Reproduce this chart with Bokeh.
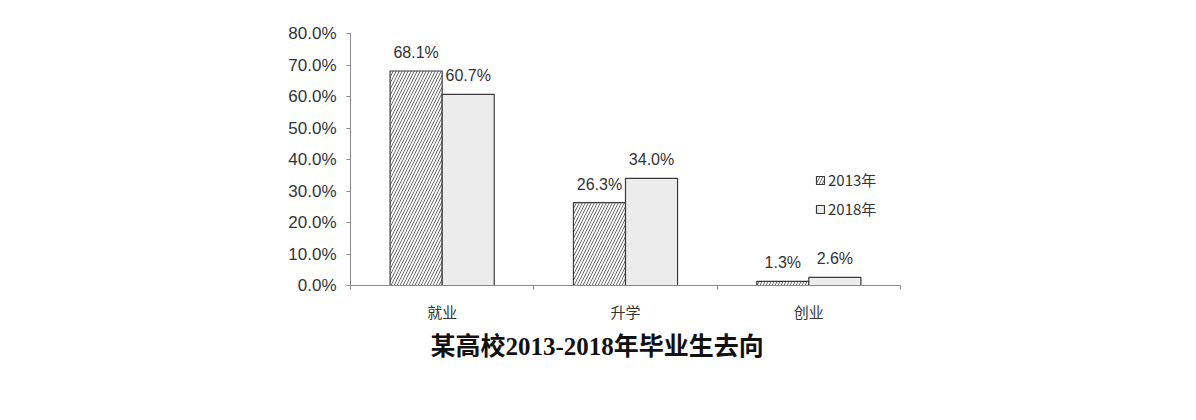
import numpy as np
from bokeh.plotting import figure
from bokeh.models import (Range1d, FixedTicker, PrintfTickFormatter, Legend, LegendItem,
                          ColumnDataSource, LabelSet, Title)
from bokeh.core.properties import value
from bokeh.embed import file_html
from bokeh.resources import INLINE

categories = ["就业", "升学", "创业"]
series_names = ["2013年", "2018年"]
v2013 = [68.1, 26.3, 1.3]
v2018 = [60.7, 34.0, 2.6]
y_ticks = [0, 10, 20, 30, 40, 50, 60, 70, 80]
title_text = "某高校2013-2018年毕业生去向"

BAR_W = 0.284
centers = np.arange(len(categories)) + 0.5

src13 = ColumnDataSource(dict(x=centers - BAR_W / 2, y=v2013,
                              lab=[f"{v:.1f}%" for v in v2013]))
src18 = ColumnDataSource(dict(x=centers + BAR_W / 2, y=v2018,
                              lab=[f"{v:.1f}%" for v in v2018]))

p = figure(width=1180, height=404, output_backend="svg", toolbar_location=None,
           x_range=Range1d(0, len(categories)), y_range=Range1d(0, 80),
           min_border_left=350, min_border_right=280, min_border_top=33,
           min_border_bottom=119)
p.outline_line_color = None
p.grid.visible = False
p.background_fill_color = "white"
p.border_fill_color = "white"

TEXT_COL = "#333333"
AX_COL = "#8a8a8a"
SANS = "Liberation Sans"

r13 = p.vbar(x="x", top="y", width=BAR_W, source=src13, fill_color="white",
             line_color="#3a3a3a", line_width=1.2,
             hatch_pattern="/", hatch_color="#5a5a5a", hatch_scale=6, hatch_weight=0.9)
r18 = p.vbar(x="x", top="y", width=BAR_W, source=src18, fill_color="#ececec",
             line_color="#3a3a3a", line_width=1.2)

for s in (src13, src18):
    p.add_layout(LabelSet(x="x", y="y", text="lab", source=s, text_align="center",
                          text_baseline="bottom", y_offset=10,
                          text_font=value(SANS), text_font_size="16px",
                          text_color=TEXT_COL))

# y axis
p.yaxis.ticker = FixedTicker(ticks=y_ticks)
p.yaxis.formatter = PrintfTickFormatter(format="%.1f%%")
p.yaxis.major_tick_out = 4
p.yaxis.major_tick_in = 0
p.yaxis.minor_tick_line_color = None
p.yaxis.axis_line_color = AX_COL
p.yaxis.major_tick_line_color = AX_COL
p.yaxis.major_label_text_font = SANS
p.yaxis.major_label_text_font_size = "17px"
p.yaxis.major_label_text_color = TEXT_COL
p.yaxis.major_label_standoff = 10

# x axis: labels at centres, small ticks at category boundaries
p.xaxis.ticker = FixedTicker(ticks=list(centers),
                             minor_ticks=list(np.arange(len(categories) + 1)))
p.xaxis.major_label_overrides = {float(c): cat for c, cat in zip(centers, categories)}
p.xaxis.major_tick_line_color = None
p.xaxis.minor_tick_out = 4
p.xaxis.minor_tick_in = 0
p.xaxis.minor_tick_line_color = AX_COL
p.xaxis.axis_line_color = AX_COL
p.xaxis.major_label_text_font = "Noto Sans CJK SC"
p.xaxis.major_label_text_font_size = "15px"
p.xaxis.major_label_text_color = TEXT_COL
p.xaxis.major_label_standoff = 9

legend = Legend(items=[LegendItem(label=series_names[0], renderers=[r13]),
                       LegendItem(label=series_names[1], renderers=[r18])],
                location=(465, 66), orientation="vertical",
                glyph_width=10, glyph_height=10, label_height=14, spacing=8,
                label_standoff=3, padding=0, margin=0,
                background_fill_alpha=0, border_line_color=None,
                label_text_font="Noto Sans CJK SC", label_text_font_size="15px",
                label_text_color=TEXT_COL)
p.add_layout(legend, "center")

title = Title(text=title_text, align="left", offset=80, standoff=13,
              text_font="'Liberation Serif', 'Noto Sans CJK SC'", text_font_style="bold",
              text_font_size="25px", text_color="#111111")
p.add_layout(title, "below")

open("out.html", "w").write(file_html(p, INLINE))
